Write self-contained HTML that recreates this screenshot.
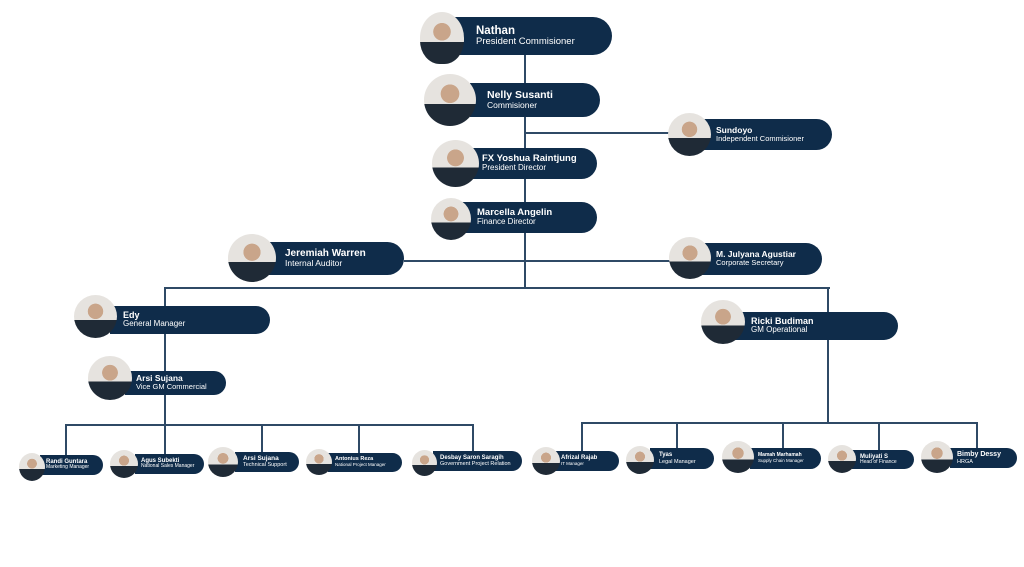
<!DOCTYPE html>
<html><head><meta charset="utf-8"><style>
html,body{margin:0;padding:0;background:#fff;}
#c{position:relative;width:1024px;height:567px;overflow:hidden;background:#fff;font-family:"Liberation Sans",sans-serif;}
.l{position:absolute;background:#2f4a66;}
.p{position:absolute;background:#0f2c4a;border-radius:0 999px 999px 0;color:#fff;box-sizing:border-box;display:flex;flex-direction:column;justify-content:center;white-space:nowrap;}
.p b{font-weight:bold;line-height:1.05;}
.p span{line-height:1.1;font-weight:normal;}
.a{position:absolute;border-radius:50%;background:radial-gradient(circle at 50% 38%,#c9a58a 0 22%,transparent 23%),linear-gradient(to bottom,#e6e3df 0 58%,#1f2a36 58% 100%);}
</style></head><body><div id="c">
<!-- lines -->
<div class="l" style="left:524px;top:55px;width:2px;height:234px"></div>
<div class="l" style="left:525px;top:132px;width:150px;height:2px"></div>
<div class="l" style="left:404px;top:260px;width:270px;height:2px"></div>
<div class="l" style="left:164px;top:287px;width:666px;height:2px"></div>
<div class="l" style="left:164px;top:287px;width:2px;height:138px"></div>
<div class="l" style="left:827px;top:287px;width:2px;height:137px"></div>
<div class="l" style="left:65px;top:424px;width:409px;height:2px"></div>
<div class="l" style="left:65px;top:424px;width:2px;height:32px"></div>
<div class="l" style="left:164px;top:424px;width:2px;height:31px"></div>
<div class="l" style="left:261px;top:424px;width:2px;height:29px"></div>
<div class="l" style="left:358px;top:424px;width:2px;height:30px"></div>
<div class="l" style="left:472px;top:424px;width:2px;height:28px"></div>
<div class="l" style="left:581px;top:422px;width:397px;height:2px"></div>
<div class="l" style="left:581px;top:422px;width:2px;height:30px"></div>
<div class="l" style="left:676px;top:422px;width:2px;height:28px"></div>
<div class="l" style="left:782px;top:422px;width:2px;height:28px"></div>
<div class="l" style="left:878px;top:422px;width:2px;height:29px"></div>
<div class="l" style="left:976px;top:422px;width:2px;height:27px"></div>

<!-- top nodes -->
<div class="p" style="left:450px;top:17px;width:162px;height:38px;padding-left:26px"><b style="font-size:11.5px">Nathan</b><span style="font-size:9.5px">President Commisioner</span></div>
<div class="a" style="left:420px;top:12px;width:44px;height:52px;border-radius:50% 50% 45% 45%"></div>

<div class="p" style="left:470px;top:83px;width:130px;height:34px;padding-left:17px"><b style="font-size:10.5px">Nelly Susanti</b><span style="font-size:8.5px">Commisioner</span></div>
<div class="a" style="left:424px;top:74px;width:52px;height:52px"></div>

<div class="p" style="left:700px;top:119px;width:132px;height:31px;padding-left:16px"><b style="font-size:8.5px">Sundoyo</b><span style="font-size:7.5px">Independent Commisioner</span></div>
<div class="a" style="left:668px;top:113px;width:43px;height:43px"></div>

<div class="p" style="left:470px;top:148px;width:127px;height:31px;padding-left:12px"><b style="font-size:9.5px">FX Yoshua Raintjung</b><span style="font-size:8px">President Director</span></div>
<div class="a" style="left:432px;top:140px;width:47px;height:47px"></div>

<div class="p" style="left:460px;top:202px;width:137px;height:31px;padding-left:17px"><b style="font-size:9.5px">Marcella Angelin</b><span style="font-size:8px">Finance Director</span></div>
<div class="a" style="left:431px;top:198px;width:40px;height:42px"></div>

<div class="p" style="left:265px;top:242px;width:139px;height:33px;padding-left:20px"><b style="font-size:10px">Jeremiah Warren</b><span style="font-size:8.5px">Internal Auditor</span></div>
<div class="a" style="left:228px;top:234px;width:48px;height:48px"></div>

<div class="p" style="left:700px;top:243px;width:122px;height:32px;padding-left:16px"><b style="font-size:8.5px">M. Julyana Agustiar</b><span style="font-size:7.5px">Corporate Secretary</span></div>
<div class="a" style="left:669px;top:237px;width:42px;height:42px"></div>

<div class="p" style="left:110px;top:306px;width:160px;height:28px;padding-left:13px"><b style="font-size:9px">Edy</b><span style="font-size:8px">General Manager</span></div>
<div class="a" style="left:74px;top:295px;width:43px;height:43px"></div>

<div class="p" style="left:735px;top:312px;width:163px;height:28px;padding-left:16px"><b style="font-size:9px">Ricki Budiman</b><span style="font-size:8px">GM Operational</span></div>
<div class="a" style="left:701px;top:300px;width:44px;height:44px"></div>

<div class="p" style="left:125px;top:371px;width:101px;height:24px;padding-left:11px"><b style="font-size:8.5px">Arsi Sujana</b><span style="font-size:7.5px">Vice GM Commercial</span></div>
<div class="a" style="left:88px;top:356px;width:44px;height:44px"></div>

<!-- bottom left -->
<div class="p" style="left:40px;top:455px;width:63px;height:20px;padding-left:6px"><b style="font-size:6px">Randi Guntara</b><span style="font-size:5px">Marketing Manager</span></div>
<div class="a" style="left:19px;top:453px;width:26px;height:28px"></div>
<div class="p" style="left:135px;top:454px;width:69px;height:20px;padding-left:6px"><b style="font-size:6px">Agus Subekti</b><span style="font-size:5px">National Sales Manager</span></div>
<div class="a" style="left:110px;top:450px;width:28px;height:28px"></div>
<div class="p" style="left:235px;top:452px;width:64px;height:20px;padding-left:8px"><b style="font-size:6.5px">Arsi Sujana</b><span style="font-size:5.5px">Technical Support</span></div>
<div class="a" style="left:208px;top:447px;width:30px;height:30px"></div>
<div class="p" style="left:328px;top:453px;width:74px;height:19px;padding-left:7px"><b style="font-size:5.5px">Antonius Reza</b><span style="font-size:4.5px">National Project Manager</span></div>
<div class="a" style="left:306px;top:449px;width:26px;height:26px"></div>
<div class="p" style="left:433px;top:451px;width:89px;height:20px;padding-left:7px"><b style="font-size:6px">Desbay Saron Saragih</b><span style="font-size:5.5px">Government Project Relation</span></div>
<div class="a" style="left:412px;top:450px;width:25px;height:26px"></div>

<!-- bottom right -->
<div class="p" style="left:555px;top:451px;width:64px;height:20px;padding-left:6px"><b style="font-size:6px">Afrizal Rajab</b><span style="font-size:4.5px">IT Manager</span></div>
<div class="a" style="left:532px;top:447px;width:28px;height:28px"></div>
<div class="p" style="left:650px;top:448px;width:64px;height:21px;padding-left:9px"><b style="font-size:6px">Tyas</b><span style="font-size:5.5px">Legal Manager</span></div>
<div class="a" style="left:626px;top:446px;width:28px;height:28px"></div>
<div class="p" style="left:750px;top:448px;width:71px;height:21px;padding-left:8px"><b style="font-size:5px">Mamah Marhamah</b><span style="font-size:4.5px">Supply Chain Manager</span></div>
<div class="a" style="left:722px;top:441px;width:32px;height:32px"></div>
<div class="p" style="left:852px;top:450px;width:62px;height:19px;padding-left:8px"><b style="font-size:6px">Muliyati S</b><span style="font-size:5px">Head of Finance</span></div>
<div class="a" style="left:828px;top:445px;width:28px;height:28px"></div>
<div class="p" style="left:950px;top:448px;width:67px;height:20px;padding-left:7px"><b style="font-size:7px">Bimby Dessy</b><span style="font-size:5.5px">HRGA</span></div>
<div class="a" style="left:921px;top:441px;width:32px;height:32px"></div>
</div></body></html>
